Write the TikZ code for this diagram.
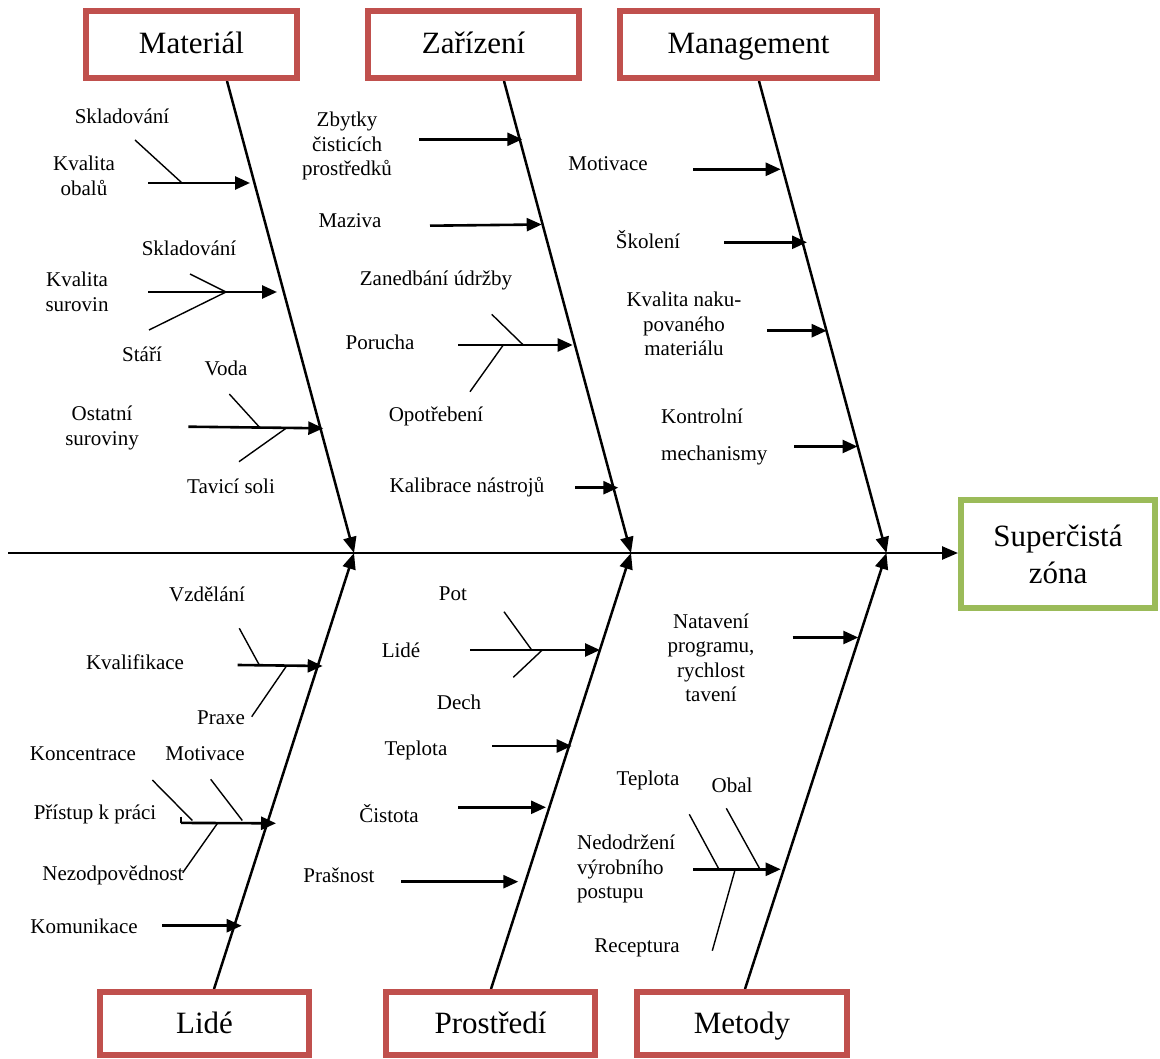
\documentclass[tikz,border=0pt]{standalone}
\usepackage{fontspec}
\setmainfont{Liberation Serif}
\usetikzlibrary{arrows.meta}
\definecolor{catred}{RGB}{192,80,77}
\definecolor{effgreen}{RGB}{155,187,89}
\begin{document}
\begin{tikzpicture}[x=1pt,y=-1pt,
  catbox/.style={draw=catred, line width=6pt, fill=white, inner sep=0pt,
    minimum height=67pt, text height=26pt, text depth=7pt,
    font=\fontsize{31}{37}\selectfont},
  effbox/.style={draw=effgreen, line width=6pt, fill=white, inner sep=0pt,
    minimum width=194pt, minimum height=108pt, align=center,
    font=\fontsize{31}{37}\selectfont},
  spine/.style={line width=2.5pt, -{Triangle[length=16pt,width=13pt]}},
  bone/.style={line width=2.5pt, -{Triangle[length=16pt,width=13pt]}},
  cause/.style={line width=2.6pt, -{Triangle[length=15pt,width=13pt]}},
  twig/.style={line width=1.4pt},
  lbl/.style={inner sep=0pt, align=center, font=\fontsize{21}{24.5}\selectfont},
  lbll/.style={lbl, align=left, anchor=west}]
\useasboundingbox (0,0) rectangle (1160,1059);

% ---- spine and junctions ----
\coordinate (tail) at (8,553);
\coordinate (jA) at (354,553);
\coordinate (jB) at (631,553);
\coordinate (jC) at (886.5,553);
% bone ends at the category boxes
\coordinate (matB) at (227,81);
\coordinate (zarB) at (504,81);
\coordinate (manB) at (759,81);
\coordinate (lidB) at (214,989);
\coordinate (proB) at (491,989);
\coordinate (metB) at (745,989);

\draw[bone] (matB) -- (jA);
\draw[bone] (zarB) -- (jB);
\draw[bone] (manB) -- (jC);
\draw[bone] (lidB) -- (jA);
\draw[bone] (proB) -- (jB);
\draw[bone] (metB) -- (jC);

% ---- category boxes ----
\node[catbox, minimum width=211pt] (mat) at (191.5,44.5) {Materiál};
\node[catbox, minimum width=211pt] (zar) at (473.5,44.5) {Zařízení};
\node[catbox, minimum width=257pt] (man) at (748.5,44.5) {Management};
\node[catbox, minimum width=209pt, minimum height=63pt] (lid) at (204.5,1023.5) {Lidé};
\node[catbox, minimum width=209pt, minimum height=63pt] (pro) at (490.5,1023.5) {Prostředí};
\node[catbox, minimum width=210pt, minimum height=63pt] (met) at (742,1023.5) {Metody};

\draw[spine] (tail) -- (958,553) coordinate (effin);
\node[effbox] (eff) at (1058,554) {Superčistá\\zóna};

% ---- Materiál ----
\path (148,183) coordinate (m1s) (250,183) coordinate (m1e)
      (135,140) coordinate (m1a) (181.7,182.7) coordinate (m1ae);
\draw[cause] (m1s) -- (m1e);
\draw[twig] (m1a) -- (m1ae);
\node[lbl] (lm1a) at (122,116) {Skladování};
\node[lbl] (lm1) at (84,176) {Kvalita\\obalů};

\path (148,292) coordinate (m2s) (277,292) coordinate (m2e)
      (190,274) coordinate (m2a) (149,330) coordinate (m2b) (226,292) coordinate (m2j);
\draw[cause] (m2s) -- (m2e);
\draw[twig] (m2a) -- (m2j) -- (m2b);
\node[lbl] (lm2a) at (189,248) {Skladování};
\node[lbl] (lm2) at (77,292) {Kvalita\\surovin};
\node[lbl] (lm2b) at (142,354) {Stáří};

\path (188.3,426.7) coordinate (m3s) (323.3,428.3) coordinate (m3e)
      (229.3,394) coordinate (m3a) (259.3,427) coordinate (m3aj)
      (239,461.7) coordinate (m3b) (286.7,427.8) coordinate (m3bj);
\draw[cause] (m3s) -- (m3e);
\draw[twig] (m3a) -- (m3aj);
\draw[twig] (m3b) -- (m3bj);
\node[lbl] (lm3a) at (226,368) {Voda};
\node[lbl] (lm3) at (102,428) {Ostatní\\suroviny};
\node[lbl] (lm3b) at (231,486) {Tavicí soli};

% ---- Zařízení ----
\path (419,139.3) coordinate (z1s) (522.3,139.3) coordinate (z1e);
\draw[cause] (z1s) -- (z1e);
\node[lbl] (lz1) at (347,146) {Zbytky\\čisticích\\prostředků};

\path (430,225.7) coordinate (z2s) (541.7,224.5) coordinate (z2e);
\draw[cause] (z2s) -- (z2e);
\node[lbl] (lz2) at (350,221) {Maziva};

\path (458.3,345) coordinate (z3s) (572.7,345) coordinate (z3e)
      (491.7,314.3) coordinate (z3a) (523.3,345) coordinate (z3aj)
      (470,391.7) coordinate (z3b) (503.3,345) coordinate (z3bj);
\draw[cause] (z3s) -- (z3e);
\draw[twig] (z3a) -- (z3aj);
\draw[twig] (z3b) -- (z3bj);
\node[lbl] (lz3a) at (436,280) {Zanedbání údržby};
\node[lbl] (lz3) at (380,342) {Porucha};
\node[lbl] (lz3b) at (436,416) {Opotřebení};

\path (575,487.7) coordinate (z4s) (618.3,487.7) coordinate (z4e);
\draw[cause] (z4s) -- (z4e);
\node[lbl] (lz4) at (467,487) {Kalibrace nástrojů};

% ---- Management ----
\path (693.3,169.3) coordinate (g1s) (780.7,169.3) coordinate (g1e);
\draw[cause] (g1s) -- (g1e);
\node[lbl] (lg1) at (608,164) {Motivace};

\path (724,242.3) coordinate (g2s) (807,242.3) coordinate (g2e);
\draw[cause] (g2s) -- (g2e);
\node[lbl] (lg2) at (648,240) {Školení};

\path (767.3,330.7) coordinate (g3s) (826.7,330.7) coordinate (g3e);
\draw[cause] (g3s) -- (g3e);
\node[lbl] (lg3) at (684,324) {Kvalita naku-\\povaného\\materiálu};

\path (794,446.5) coordinate (g4s) (857.5,446.5) coordinate (g4e);
\draw[cause] (g4s) -- (g4e);
\node[lbll, font=\fontsize{21}{37}\selectfont] (lg4) at (661,436.5) {Kontrolní\\mechanismy};

% ---- Lidé ----
\path (237.7,665) coordinate (l1s) (322.7,666) coordinate (l1e)
      (239.3,628.3) coordinate (l1a) (259,664.5) coordinate (l1aj)
      (251.7,716.7) coordinate (l1b) (286.7,665.7) coordinate (l1bj);
\draw[cause] (l1s) -- (l1e);
\draw[twig] (l1a) -- (l1aj);
\draw[twig] (l1b) -- (l1bj);
\node[lbl] (ll1a) at (207,594) {Vzdělání};
\node[lbl] (ll1) at (135,662) {Kvalifikace};
\node[lbl] (ll1b) at (221,718) {Praxe};

\path (181,822.9) coordinate (l2s) (276,823.3) coordinate (l2e)
      (181,816.7) coordinate (l2t)
      (152.3,780) coordinate (l2a) (192.3,820.5) coordinate (l2aj)
      (210.7,779.3) coordinate (l2b) (242.3,820.5) coordinate (l2bj)
      (182.7,872.7) coordinate (l2c) (217.7,823) coordinate (l2cj);
\draw[cause] (l2s) -- (l2e);
\draw[twig] (l2t) -- (l2s);
\draw[twig] (l2a) -- (l2aj);
\draw[twig] (l2b) -- (l2bj);
\draw[twig] (l2c) -- (l2cj);
\node[lbl] (ll2a) at (83,754) {Koncentrace};
\node[lbl] (ll2b) at (205,754) {Motivace};
\node[lbl] (ll2) at (95,814) {Přístup k práci};
\node[lbl] (ll2c) at (113,875) {Nezodpovědnost};

\path (162.3,925.7) coordinate (l3s) (241.7,925.7) coordinate (l3e);
\draw[cause] (l3s) -- (l3e);
\node[lbl] (ll3) at (84,926) {Komunikace};

% ---- Prostředí ----
\path (470,650) coordinate (p1s) (600,650) coordinate (p1e)
      (504,611.7) coordinate (p1a) (531.7,650) coordinate (p1aj)
      (513.3,677.3) coordinate (p1b) (542.3,650) coordinate (p1bj);
\draw[cause] (p1s) -- (p1e);
\draw[twig] (p1a) -- (p1aj);
\draw[twig] (p1b) -- (p1bj);
\node[lbl] (lp1a) at (453,594) {Pot};
\node[lbl] (lp1) at (401,650) {Lidé};
\node[lbl] (lp1b) at (459,702) {Dech};

\path (492.3,746) coordinate (p2s) (571.7,746) coordinate (p2e);
\draw[cause] (p2s) -- (p2e);
\node[lbl] (lp2) at (416,750) {Teplota};

\path (458.3,807.3) coordinate (p3s) (546,807.3) coordinate (p3e);
\draw[cause] (p3s) -- (p3e);
\node[lbl] (lp3) at (389,814) {Čistota};

\path (401,881.7) coordinate (p4s) (518.3,881.7) coordinate (p4e);
\draw[cause] (p4s) -- (p4e);
\node[lbl] (lp4) at (339,875) {Prašnost};

% ---- Metody ----
\path (792.7,637.5) coordinate (t1s) (858.3,637.5) coordinate (t1e);
\draw[cause] (t1s) -- (t1e);
\node[lbl] (lt1) at (711,658) {Natavení\\programu,\\rychlost\\tavení};

\path (693.3,869.3) coordinate (t2s) (780.7,869.3) coordinate (t2e)
      (689.3,814.3) coordinate (t2a) (719,869.3) coordinate (t2aj)
      (726.3,808.3) coordinate (t2b) (760,869.3) coordinate (t2bj)
      (712.3,950.7) coordinate (t2c) (735,870) coordinate (t2cj);
\draw[cause] (t2s) -- (t2e);
\draw[twig] (t2a) -- (t2aj);
\draw[twig] (t2b) -- (t2bj);
\draw[twig] (t2c) -- (t2cj);
\node[lbl] (lt2a) at (648,780) {Teplota};
\node[lbl] (lt2b) at (732,785) {Obal};
\node[lbll] (lt2) at (577,869) {Nedodržení\\výrobního\\postupu};
\node[lbl] (lt2c) at (637,948) {Receptura};
\end{tikzpicture}
\end{document}
